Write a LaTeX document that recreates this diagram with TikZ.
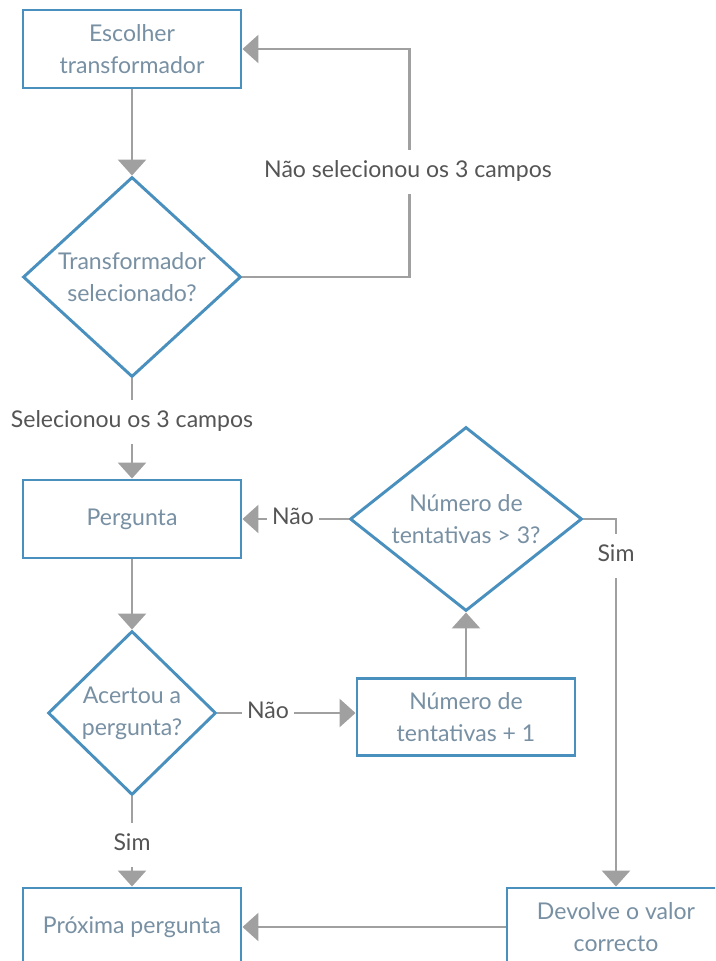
\documentclass[tikz,border=0pt]{standalone}
\usepackage{fontspec}
\setmainfont{Lato}
\usetikzlibrary{shapes.geometric,arrows.meta}
\definecolor{boxblue}{HTML}{4A90BE}
\definecolor{boxtext}{HTML}{7890A3}
\definecolor{linegray}{HTML}{A0A0A0}
\definecolor{labelgray}{HTML}{555555}
\begin{document}
\begin{tikzpicture}[x=0.75pt,y=-0.75pt,
  every node/.style={font=\fontsize{17.3pt}{24pt}\selectfont},
  procbox/.style={rectangle, draw=boxblue, line width=2.2pt, fill=white,
    text=boxtext, align=center, minimum width=163.5pt, minimum height=58.5pt,
    inner sep=0pt},
  decision/.style={diamond, draw=boxblue, line width=2.2pt, fill=white,
    text=boxtext, align=center, inner sep=-10pt},
  conn/.style={draw=linegray, line width=2.2pt},
  flow/.style={conn, -{Triangle[length=12pt,width=21pt]}},
  edgelabel/.style={fill=white, text=labelgray, inner xsep=3.5pt,
    inner ysep=8.5pt, text height=12.5pt, text depth=4pt},
]
\useasboundingbox (0,0) rectangle (715,961);
\clip (0,0) rectangle (715,961);

% process boxes
\node[procbox] (choose) at (132,49) {Escolher\\transformador};
\node[procbox] (question) at (132,519) {Pergunta};
\node[procbox, minimum height=57.75pt] (count) at (466,717) {Número de\\tentativas + 1};
\node[procbox] (next) at (132,927) {Próxima pergunta};
\node[procbox] (answer) at (616,927) {Devolve o valor\\correcto};

% decisions
\node[decision, minimum width=163.5pt, minimum height=150pt] (chosen) at (132,277) {Transformador\\selecionado?};
\node[decision, minimum width=174pt, minimum height=138pt] (limit) at (466,519) {Número de\\tentativas > 3?};
\node[decision, minimum width=126pt, minimum height=123pt] (right) at (132,713) {Acertou a\\pergunta?};

% connectors
\draw[flow] (choose.south) -- (chosen.north);
\draw[flow] (chosen.east) -- ++(167,0) |- (choose.east);
\draw[flow] (chosen.south) -- (question.north);
\draw[flow] (limit.west) -- (question.east);
\draw[flow] (limit.east) -| (answer.north);
\draw[flow] (question.south) -- (right.north);
\draw[flow] (right.east) -- (right.east -| count.west);
\draw[flow] (count.north) -- (limit.south);
\draw[flow] (right.south) -- (next.north);
\draw[flow] (answer.west) -- (next.east);

% connector labels
\node[edgelabel] (lnot) at (408,172) {Não selecionou os 3 campos};
\node[edgelabel] (lsel) at (132,422) {Selecionou os 3 campos};
\node[edgelabel] (lno1) at (293,519) {Não};
\node[edgelabel] (lyes1) at (616,556) {Sim};
\node[edgelabel] (lno2) at (268,713) {Não};
\node[edgelabel] (lyes2) at (132,845) {Sim};
\end{tikzpicture}
\end{document}
